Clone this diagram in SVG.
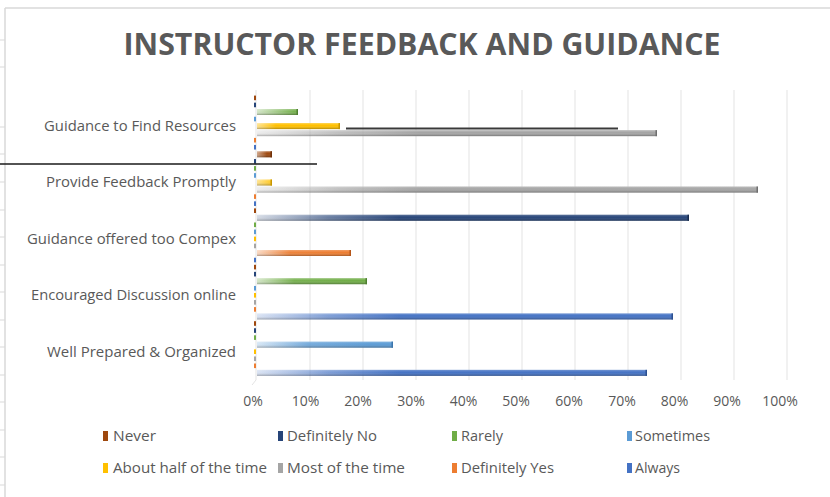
<svg xmlns="http://www.w3.org/2000/svg" width="830" height="497" viewBox="0 0 830 497">
<style>
  .title{font-family:"Open Sans","Liberation Sans",sans-serif;font-weight:bold;font-size:31px;fill:#595959}
  .cat{font-family:"Open Sans","Liberation Sans",sans-serif;font-size:14px;fill:#595959;text-anchor:end}
  .ax{font-family:"Open Sans","Liberation Sans",sans-serif;font-size:14px;fill:#595959;text-anchor:middle}
  .lg{font-family:"Open Sans","Liberation Sans",sans-serif;font-size:14px;fill:#595959}
  .grid{stroke:#E3E3E3;stroke-width:1;fill:none}
  .frame{stroke:#D9D9D9;stroke-width:1.5;fill:none}
  .tick{stroke:#D9D9D9;stroke-width:1}
  .sh{fill:url(#shade)}
  .z{width:2px;height:4.6px}
</style>
<defs>
  <linearGradient id="shade" x1="0" y1="0" x2="0" y2="1">
    <stop offset="0" stop-color="#fff" stop-opacity="0.25"/>
    <stop offset="0.4" stop-color="#fff" stop-opacity="0"/>
    <stop offset="1" stop-color="#000" stop-opacity="0.3"/>
  </linearGradient>
  <linearGradient id="g0" gradientUnits="userSpaceOnUse" x1="257" y1="0" x2="290" y2="0"><stop offset="0" stop-color="#9E480E" stop-opacity="0.5"/><stop offset="0.3" stop-color="#9E480E" stop-opacity="1"/></linearGradient>
  <linearGradient id="g1" gradientUnits="userSpaceOnUse" x1="257" y1="0" x2="400" y2="0"><stop offset="0" stop-color="#264478" stop-opacity="0.2"/><stop offset="0.5" stop-color="#264478" stop-opacity="0.7"/><stop offset="1" stop-color="#264478" stop-opacity="1"/></linearGradient>
  <linearGradient id="g2" gradientUnits="userSpaceOnUse" x1="257" y1="0" x2="350" y2="0"><stop offset="0" stop-color="#70AD47" stop-opacity="0.3"/><stop offset="0.4" stop-color="#70AD47" stop-opacity="0.95"/><stop offset="1" stop-color="#70AD47" stop-opacity="1"/></linearGradient>
  <linearGradient id="g3" gradientUnits="userSpaceOnUse" x1="257" y1="0" x2="370" y2="0"><stop offset="0" stop-color="#5B9BD5" stop-opacity="0.25"/><stop offset="0.45" stop-color="#5B9BD5" stop-opacity="0.85"/><stop offset="1" stop-color="#5B9BD5" stop-opacity="1"/></linearGradient>
  <linearGradient id="g4" gradientUnits="userSpaceOnUse" x1="257" y1="0" x2="320" y2="0"><stop offset="0" stop-color="#FFC000" stop-opacity="0.45"/><stop offset="0.3" stop-color="#FFC000" stop-opacity="1"/><stop offset="1" stop-color="#FFC000" stop-opacity="1"/></linearGradient>
  <linearGradient id="g5" gradientUnits="userSpaceOnUse" x1="257" y1="0" x2="420" y2="0"><stop offset="0" stop-color="#A5A5A5" stop-opacity="0.2"/><stop offset="0.5" stop-color="#A5A5A5" stop-opacity="0.7"/><stop offset="1" stop-color="#A5A5A5" stop-opacity="1"/></linearGradient>
  <linearGradient id="g6" gradientUnits="userSpaceOnUse" x1="257" y1="0" x2="340" y2="0"><stop offset="0" stop-color="#ED7D31" stop-opacity="0.3"/><stop offset="0.4" stop-color="#ED7D31" stop-opacity="0.95"/><stop offset="1" stop-color="#ED7D31" stop-opacity="1"/></linearGradient>
  <linearGradient id="g7" gradientUnits="userSpaceOnUse" x1="257" y1="0" x2="400" y2="0"><stop offset="0" stop-color="#4472C4" stop-opacity="0.2"/><stop offset="0.5" stop-color="#4472C4" stop-opacity="0.7"/><stop offset="1" stop-color="#4472C4" stop-opacity="1"/></linearGradient>
</defs>

<rect x="0" y="0" width="830" height="497" fill="#ffffff"/>

<g id="frame">
  <path class="frame" d="M5,8 H830 M5,8 V497"/>
  <path class="tick" d="M0,40 H5 M0,67 H5 M0,127 H5 M0,154 H5 M0,182 H5 M0,210 H5 M0,237 H5 M0,265 H5 M0,292 H5 M0,320 H5 M0,347 H5 M0,375 H5 M0,402 H5 M0,430 H5 M0,457 H5 M0,485 H5"/>
</g>

<text class="title" x="422" y="55" text-anchor="middle" textLength="597" lengthAdjust="spacingAndGlyphs">INSTRUCTOR FEEDBACK AND GUIDANCE</text>

<g id="axis">
  <path class="grid" d="M310,90 V380 M363,90 V380 M416,90 V380 M469,90 V380 M522,90 V380 M575,90 V380 M628,90 V380 M681,90 V380 M734,90 V380 M787,90 V380"/>
  <path class="grid" d="M256,90 V380 L252,385"/>
  <text class="ax" x="253" y="406">0%</text>
  <text class="ax" x="305.5" y="406">10%</text>
  <text class="ax" x="358" y="406">20%</text>
  <text class="ax" x="411" y="406">30%</text>
  <text class="ax" x="463.5" y="406">40%</text>
  <text class="ax" x="516" y="406">50%</text>
  <text class="ax" x="569" y="406">60%</text>
  <text class="ax" x="622" y="406">70%</text>
  <text class="ax" x="674.5" y="406">80%</text>
  <text class="ax" x="727" y="406">90%</text>
  <text class="ax" x="780" y="406">100%</text>
</g>

<g id="cat-guidance-resources">
  <text class="cat" x="236" y="131" textLength="192" lengthAdjust="spacingAndGlyphs">Guidance to Find Resources</text>
  <rect class="z" x="254" y="95.6" fill="#9E480E"/>
  <rect class="z" x="254" y="102.65" fill="#264478"/>
  <rect x="257" y="109" width="41" height="6" fill="url(#g2)"/><rect class="sh" x="257" y="109" width="41" height="6"/><rect x="296.5" y="109" width="1.5" height="6" fill="#4E7F30"/>
  <rect class="z" x="254" y="116.75" fill="#5B9BD5"/>
  <rect x="257" y="123.1" width="83" height="6" fill="url(#g4)"/><rect class="sh" x="257" y="123.1" width="83" height="6"/><rect x="338.5" y="123.1" width="1.5" height="6" fill="#C79600"/>
  <rect x="257" y="130.15" width="400" height="6" fill="url(#g5)"/><rect class="sh" x="257" y="130.15" width="400" height="6"/><rect x="655.5" y="130.15" width="1.5" height="6" fill="#6E6E6E"/>
  <rect class="z" x="254" y="137.9" fill="#ED7D31"/>
  <rect class="z" x="254" y="144.95" fill="#4472C4"/>
</g>

<g id="cat-feedback-promptly">
  <text class="cat" x="236" y="187.4" textLength="190" lengthAdjust="spacingAndGlyphs">Provide Feedback Promptly</text>
  <rect x="257" y="151.3" width="15" height="6" fill="url(#g0)"/><rect class="sh" x="257" y="151.3" width="15" height="6"/><rect x="270.5" y="151.3" width="1.5" height="6" fill="#6E3009"/>
  <rect class="z" x="254" y="159.05" fill="#264478"/>
  <rect class="z" x="254" y="166.1" fill="#70AD47"/>
  <rect class="z" x="254" y="173.15" fill="#5B9BD5"/>
  <rect x="257" y="179.5" width="15" height="6" fill="url(#g4)"/><rect class="sh" x="257" y="179.5" width="15" height="6"/><rect x="270.5" y="179.5" width="1.5" height="6" fill="#C79600"/>
  <rect x="257" y="186.55" width="501" height="6" fill="url(#g5)"/><rect class="sh" x="257" y="186.55" width="501" height="6"/><rect x="756.5" y="186.55" width="1.5" height="6" fill="#6E6E6E"/>
  <rect class="z" x="254" y="194.3" fill="#ED7D31"/>
  <rect class="z" x="254" y="201.35" fill="#4472C4"/>
</g>

<g id="cat-guidance-complex">
  <text class="cat" x="236" y="243.8" textLength="209" lengthAdjust="spacingAndGlyphs">Guidance offered too Compex</text>
  <rect class="z" x="254" y="208.4" fill="#9E480E"/>
  <rect x="257" y="214.75" width="432" height="6" fill="url(#g1)"/><rect class="sh" x="257" y="214.75" width="432" height="6"/><rect x="687.5" y="214.75" width="1.5" height="6" fill="#172B4D"/>
  <rect class="z" x="254" y="222.5" fill="#70AD47"/>
  <rect class="z" x="254" y="229.55" fill="#5B9BD5"/>
  <rect class="z" x="254" y="236.6" fill="#FFC000"/>
  <rect class="z" x="254" y="243.65" fill="#A5A5A5"/>
  <rect x="257" y="250" width="94" height="6" fill="url(#g6)"/><rect class="sh" x="257" y="250" width="94" height="6"/><rect x="349.5" y="250" width="1.5" height="6" fill="#B5561A"/>
  <rect class="z" x="254" y="257.75" fill="#4472C4"/>
</g>

<g id="cat-encouraged-discussion">
  <text class="cat" x="236" y="300.2" textLength="205" lengthAdjust="spacingAndGlyphs">Encouraged Discussion online</text>
  <rect class="z" x="254" y="264.8" fill="#9E480E"/>
  <rect class="z" x="254" y="271.85" fill="#264478"/>
  <rect x="257" y="278.2" width="110" height="6" fill="url(#g2)"/><rect class="sh" x="257" y="278.2" width="110" height="6"/><rect x="365.5" y="278.2" width="1.5" height="6" fill="#4E7F30"/>
  <rect class="z" x="254" y="285.95" fill="#5B9BD5"/>
  <rect class="z" x="254" y="293" fill="#FFC000"/>
  <rect class="z" x="254" y="300.05" fill="#A5A5A5"/>
  <rect class="z" x="254" y="307.1" fill="#ED7D31"/>
  <rect x="257" y="313.45" width="416" height="6" fill="url(#g7)"/><rect class="sh" x="257" y="313.45" width="416" height="6"/><rect x="671.5" y="313.45" width="1.5" height="6" fill="#2B4F8F"/>
</g>

<g id="cat-well-prepared">
  <text class="cat" x="236" y="356.6" textLength="189" lengthAdjust="spacingAndGlyphs">Well Prepared &amp; Organized</text>
  <rect class="z" x="254" y="321.2" fill="#9E480E"/>
  <rect class="z" x="254" y="328.25" fill="#264478"/>
  <rect class="z" x="254" y="335.3" fill="#70AD47"/>
  <rect x="257" y="341.65" width="136" height="6" fill="url(#g3)"/><rect class="sh" x="257" y="341.65" width="136" height="6"/><rect x="391.5" y="341.65" width="1.5" height="6" fill="#3A75AC"/>
  <rect class="z" x="254" y="349.4" fill="#FFC000"/>
  <rect class="z" x="254" y="356.45" fill="#A5A5A5"/>
  <rect class="z" x="254" y="363.5" fill="#ED7D31"/>
  <rect x="257" y="369.85" width="390" height="6" fill="url(#g7)"/><rect class="sh" x="257" y="369.85" width="390" height="6"/><rect x="645.5" y="369.85" width="1.5" height="6" fill="#2B4F8F"/>
</g>

<g id="connectors">
  <line x1="0" y1="164" x2="317" y2="164" stroke="#1a1a1a" stroke-width="1.5"/>
  <line x1="346" y1="128.6" x2="618" y2="128.6" stroke="#3a3a3a" stroke-width="2"/>
</g>

<g id="legend">
  <rect x="103" y="431" width="5" height="10" fill="#9E480E"/>
  <text class="lg" x="113" y="441" textLength="43" lengthAdjust="spacingAndGlyphs">Never</text>
  <rect x="278" y="431" width="5" height="10" fill="#264478"/>
  <text class="lg" x="287" y="441" textLength="90" lengthAdjust="spacingAndGlyphs">Definitely No</text>
  <rect x="452" y="431" width="5" height="10" fill="#70AD47"/>
  <text class="lg" x="461" y="441" textLength="42" lengthAdjust="spacingAndGlyphs">Rarely</text>
  <rect x="627" y="431" width="5" height="10" fill="#5B9BD5"/>
  <text class="lg" x="635" y="441" textLength="75" lengthAdjust="spacingAndGlyphs">Sometimes</text>
  <rect x="103" y="463" width="5" height="10" fill="#FFC000"/>
  <text class="lg" x="113" y="473" textLength="154" lengthAdjust="spacingAndGlyphs">About half of the time</text>
  <rect x="278" y="463" width="5" height="10" fill="#A5A5A5"/>
  <text class="lg" x="287" y="473" textLength="118" lengthAdjust="spacingAndGlyphs">Most of the time</text>
  <rect x="452" y="463" width="5" height="10" fill="#ED7D31"/>
  <text class="lg" x="461" y="473" textLength="93" lengthAdjust="spacingAndGlyphs">Definitely Yes</text>
  <rect x="627" y="463" width="5" height="10" fill="#4472C4"/>
  <text class="lg" x="635" y="473" textLength="45" lengthAdjust="spacingAndGlyphs">Always</text>
</g>
</svg>
